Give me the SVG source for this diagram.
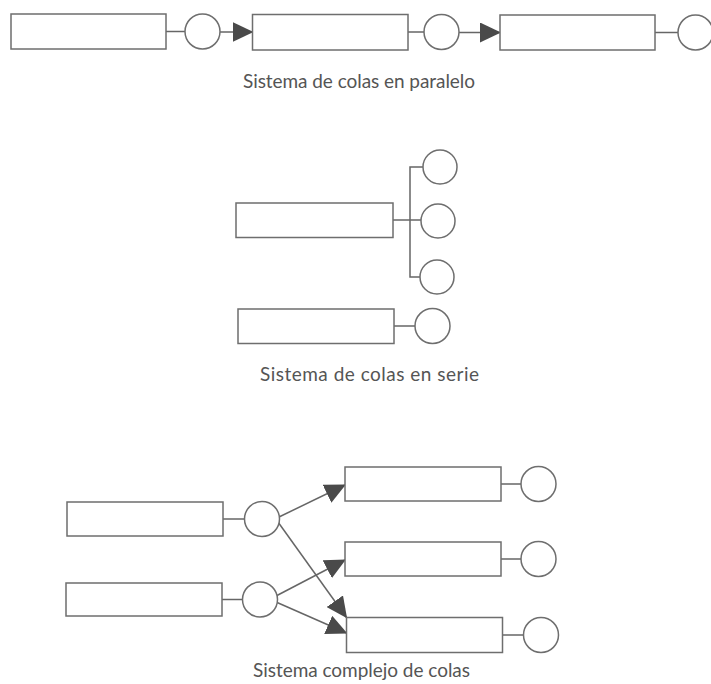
<svg xmlns="http://www.w3.org/2000/svg" width="711" height="684" viewBox="0 0 711 684">
<style>
  .box{fill:#fff;stroke:#6e6e6e;stroke-width:1.5}
  .srv{fill:#fff;stroke:#6e6e6e;stroke-width:1.5}
  .ln{fill:none;stroke:#666;stroke-width:1.5}
  .arr{fill:none;stroke:#666;stroke-width:1.5;marker-end:url(#ah)}
  .cap{font-family:Lato,"Liberation Sans",sans-serif;font-size:19px;fill:#555}
</style>
<defs>
  <marker id="ah" viewBox="0 0 21 20" refX="20" refY="10" markerWidth="21" markerHeight="20" markerUnits="userSpaceOnUse" orient="auto">
    <path d="M0,0 L21,10 L0,20 z" fill="#4a4a4a"/>
  </marker>
</defs>
<rect width="711" height="684" fill="#fff"/>

<g id="connectors">
  <!-- top row -->
  <line class="ln" x1="166" y1="31.5" x2="185" y2="31.5"/>
  <line class="arr" x1="220" y1="32" x2="252.5" y2="32"/>
  <line class="ln" x1="408" y1="32" x2="424" y2="32"/>
  <line class="arr" x1="459" y1="32.5" x2="500" y2="32.5"/>
  <line class="ln" x1="655" y1="32.5" x2="678" y2="32.5"/>
  <!-- middle -->
  <line class="ln" x1="393" y1="220" x2="421" y2="220"/>
  <polyline class="ln" points="423,167 410,167 410,277 420,277"/>
  <line class="ln" x1="394" y1="326" x2="415" y2="326"/>
  <!-- bottom -->
  <line class="ln" x1="223" y1="519" x2="244.5" y2="519"/>
  <line class="ln" x1="222" y1="599.5" x2="242.5" y2="599.5"/>
  <line class="ln" x1="501" y1="484" x2="521" y2="484"/>
  <line class="ln" x1="501" y1="559" x2="521" y2="559"/>
  <line class="ln" x1="502.5" y1="635" x2="523.5" y2="635"/>
  <line class="arr" x1="279" y1="517" x2="345" y2="485"/>
  <line class="arr" x1="278" y1="522" x2="346.5" y2="617.5"/>
  <line class="arr" x1="276" y1="596" x2="345" y2="560"/>
  <line class="arr" x1="276" y1="602" x2="346.5" y2="633"/>
</g>

<g id="p-q1"><rect class="box" x="11" y="14" width="155" height="35"/></g>
<g id="p-s1"><circle class="srv" cx="202.5" cy="31.5" r="17.5"/></g>
<g id="p-q2"><rect class="box" x="252.5" y="14.5" width="155.5" height="35.5"/></g>
<g id="p-s2"><circle class="srv" cx="441.5" cy="32" r="17.5"/></g>
<g id="p-q3"><rect class="box" x="500" y="15" width="155" height="35"/></g>
<g id="p-s3"><circle class="srv" cx="695.5" cy="32.5" r="17.5"/></g>
<text class="cap" x="243" y="87.5" textLength="232">Sistema de colas en paralelo</text>

<g id="s-q1"><rect class="box" x="236" y="203" width="157" height="34.5"/></g>
<g id="s-s1"><circle class="srv" cx="440" cy="167" r="17"/></g>
<g id="s-s2"><circle class="srv" cx="438" cy="221" r="17"/></g>
<g id="s-s3"><circle class="srv" cx="437" cy="277" r="17"/></g>
<g id="s-q2"><rect class="box" x="238" y="309" width="156" height="34.5"/></g>
<g id="s-s4"><circle class="srv" cx="432.5" cy="326" r="17.5"/></g>
<text class="cap" x="260" y="381" textLength="219">Sistema de colas en serie</text>

<g id="c-q1"><rect class="box" x="67" y="502" width="156" height="34"/></g>
<g id="c-s1"><circle class="srv" cx="262" cy="519" r="17.5"/></g>
<g id="c-q2"><rect class="box" x="66" y="583" width="156" height="33"/></g>
<g id="c-s2"><circle class="srv" cx="260" cy="599.5" r="17.5"/></g>
<g id="c-q3"><rect class="box" x="345" y="467" width="156" height="34"/></g>
<g id="c-s3"><circle class="srv" cx="538.5" cy="484" r="17.5"/></g>
<g id="c-q4"><rect class="box" x="345" y="542" width="156" height="34"/></g>
<g id="c-s4"><circle class="srv" cx="538.5" cy="559" r="17.5"/></g>
<g id="c-q5"><rect class="box" x="346.5" y="617.5" width="156" height="35"/></g>
<g id="c-s5"><circle class="srv" cx="541" cy="635" r="17.5"/></g>
<text class="cap" x="253" y="677" textLength="217">Sistema complejo de colas</text>
</svg>
